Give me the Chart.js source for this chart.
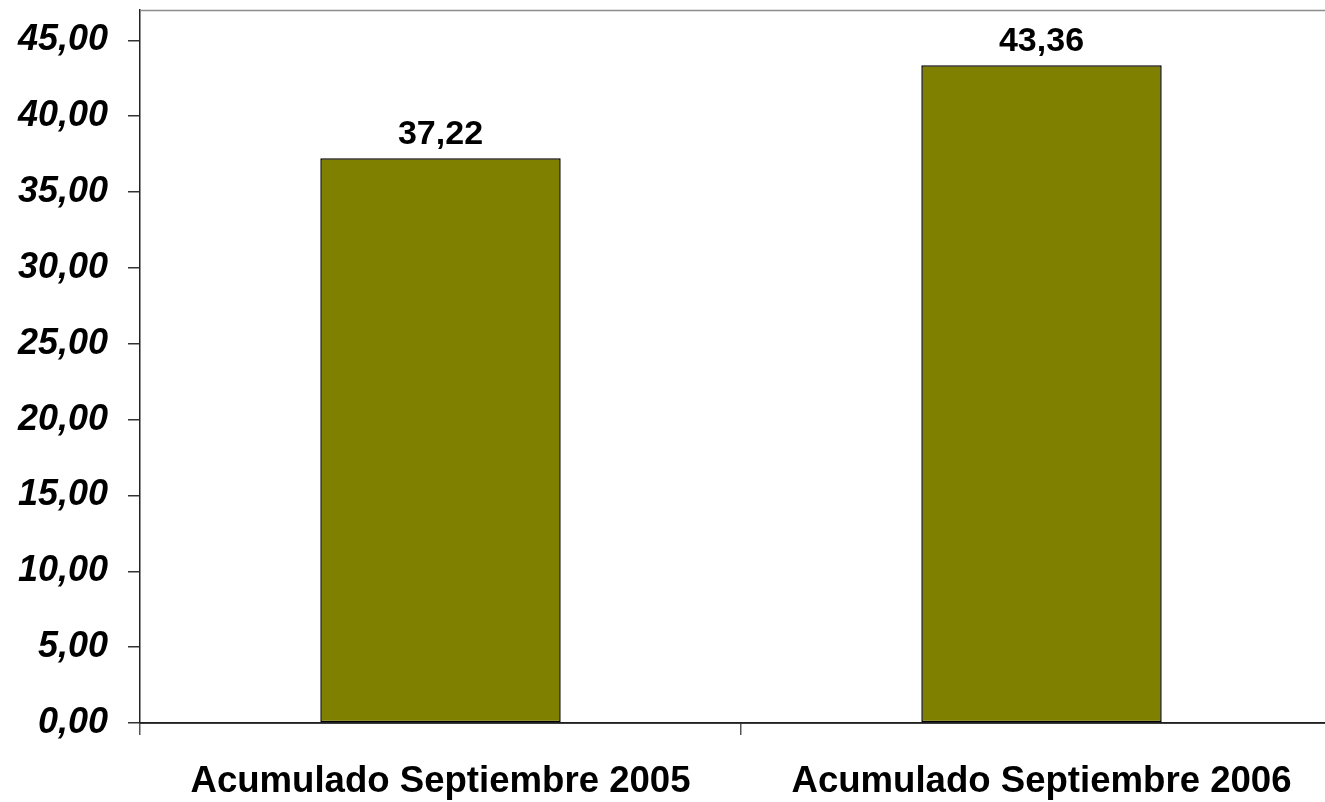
<!DOCTYPE html>
<html>
<head>
<meta charset="utf-8">
<script src="https://cdn.jsdelivr.net/npm/chart.js@4.4.1/dist/chart.umd.min.js"></script>
<style>
  html, body { margin: 0; padding: 0; background: #fff; overflow: hidden; }
  #wrap { position: relative; width: 1342px; height: 802px; }
</style>
</head>
<body>
<div id="wrap"><canvas id="c"></canvas></div>
<script>
const categories = ["Acumulado Septiembre 2005", "Acumulado Septiembre 2006"];
const values = [37.22, 43.36];
const yMin = 0, yMax = 47, yStep = 5;

const fmt = v => Number(v).toFixed(2).replace('.', ',');

const frameLines = {
  id: 'frameLines',
  afterDraw(chart) {
    const { ctx, chartArea } = chart;
    ctx.save();
    ctx.lineWidth = 1.5;
    ctx.strokeStyle = '#8c8c8c';
    ctx.beginPath();
    ctx.moveTo(chartArea.left, chartArea.top + 0.5);
    ctx.lineTo(chart.width, chartArea.top + 0.5);
    ctx.stroke();
    ctx.strokeStyle = '#222';
    ctx.beginPath();
    ctx.moveTo(chartArea.left, chartArea.bottom);
    ctx.lineTo(chart.width, chartArea.bottom);
    ctx.stroke();
    ctx.restore();
  }
};

const valueLabels = {
  id: 'valueLabels',
  afterDatasetsDraw(chart) {
    const { ctx } = chart;
    const meta = chart.getDatasetMeta(0);
    ctx.save();
    ctx.fillStyle = '#000';
    ctx.font = 'bold 34px "Liberation Sans", Arial, sans-serif';
    ctx.textAlign = 'center';
    ctx.textBaseline = 'alphabetic';
    meta.data.forEach((bar, i) => {
      ctx.fillText(fmt(chart.data.datasets[0].data[i]), bar.x, bar.y - 14);
    });
    ctx.restore();
  }
};

new Chart(document.getElementById('c'), {
  type: 'bar',
  data: {
    labels: categories,
    datasets: [{
      data: values,
      backgroundColor: '#808000',
      borderColor: '#000000',
      borderWidth: 1.5,
      borderSkipped: false,
      barPercentage: 0.4,
      categoryPercentage: 1.0
    }]
  },
  options: {
    responsive: true,
    maintainAspectRatio: false,
    animation: false,
    events: [],
    layout: { padding: { top: 10, right: 0, left: 0, bottom: 0 } },
    plugins: { legend: { display: false }, tooltip: { enabled: false } },
    scales: {
      x: {
        offset: true,
        grid: {
          display: true,
          offset: true,
          drawOnChartArea: false,
          drawTicks: true,
          tickLength: 12,
          color: '#555',
          lineWidth: 1.5
        },
        border: { display: true, color: '#222', width: 1.5 },
        ticks: {
          color: '#000',
          padding: 25,
          maxRotation: 0,
          font: { family: '"Liberation Sans", Arial, sans-serif', size: 36.6, weight: 'bold' }
        },
        afterFit(scale) {
          scale.height = 79;
          scale.paddingLeft = 0; scale.paddingRight = 0;
        }
      },
      y: {
        min: yMin,
        max: yMax,
        grid: {
          display: true,
          drawOnChartArea: false,
          drawTicks: true,
          tickLength: 12,
          color: '#333',
          lineWidth: 1.5
        },
        border: { display: true, color: '#222', width: 1.5 },
        ticks: {
          stepSize: yStep,
          includeBounds: false,
          color: '#000',
          padding: 20,
          font: { family: '"Liberation Sans", Arial, sans-serif', size: 36, weight: 'bold', style: 'italic' },
          callback: v => fmt(v)
        },
        afterFit(scale) {
          scale.width = 140;
          scale.paddingTop = 0; scale.paddingBottom = 0;
        }
      }
    }
  },
  plugins: [frameLines, valueLabels]
});
</script>
</body>
</html>
